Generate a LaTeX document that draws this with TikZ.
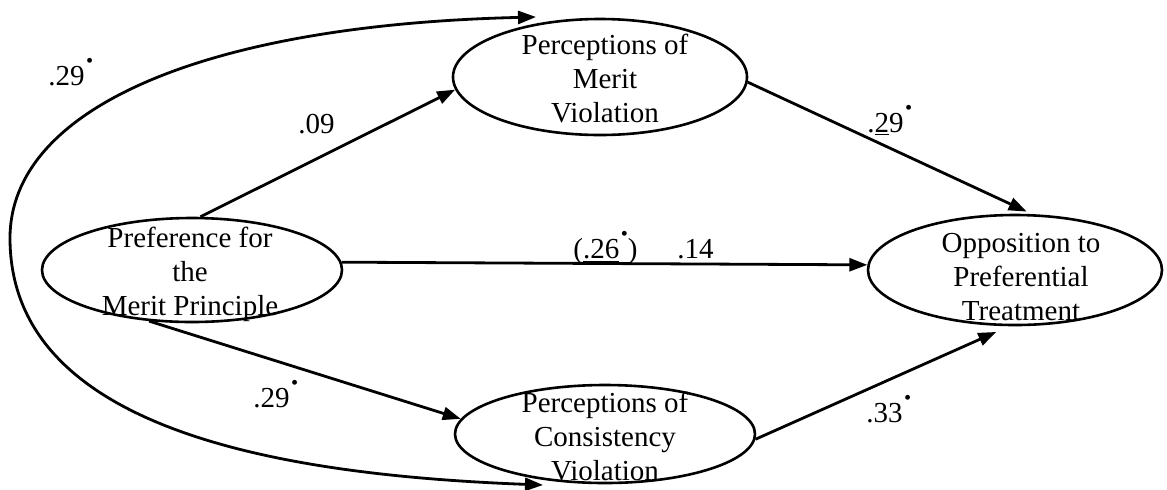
\documentclass[tikz,border=0pt]{standalone}
\usepackage{fontspec}
\setmainfont{Liberation Serif}
\usepackage{graphicx}
\usetikzlibrary{shapes.geometric,arrows.meta}
% raised significance mark after a coefficient
\newcommand{\sigdot}{\hspace{0.05em}\raisebox{0.6em}{\scalebox{0.7}{\textbullet}}}

\begin{document}
\begin{tikzpicture}[x=0.5pt,y=-0.5pt,
  latent/.style={draw, ellipse, line width=1.3pt, inner sep=0pt},
  vartext/.style={align=center, font=\fontsize{14.5}{17}\selectfont, inner sep=0pt},
  coef/.style={font=\fontsize{14.5}{17}\selectfont, inner sep=0pt, anchor=base west},
  tip/.tip={Triangle[length=9pt,width=6.5pt]},
  effect/.style={line width=1.4pt, -tip},
  ]
\useasboundingbox (0,0) rectangle (1167,489);

% latent variables
\node[latent, minimum width=147pt, minimum height=58pt] (T) at (600,77) {};
\node[latent, minimum width=150pt, minimum height=52pt] (L) at (192,270) {};
\node[latent, minimum width=147pt, minimum height=55pt] (R) at (1015,270) {};
\node[latent, minimum width=150pt, minimum height=49pt] (B) at (605,434) {};

\node[vartext] (Tt) at (605,79) {Perceptions of\\Merit\\Violation};
\node[vartext] (Lt) at (190,274) {Preference for\\the\\Merit Principle};
\node[vartext] (Rt) at (1021,277) {Opposition to\\Preferential\\Treatment};
\node[vartext] (Bt) at (605,436) {Perceptions of\\Consistency\\Violation};

% paths
\draw[effect] (L.81) -- (T.185);
\draw[effect] (L.3) -- (R.178);
\draw[effect, shorten >=3pt] (T.358) -- (R.73);
\draw[effect] (L.230) -- (B.174);
\draw[effect, shorten >=7pt] (B.358) -- (R.264);

% correlation arc on the left
\coordinate (ct) at (536,17);
\coordinate (cl) at (10,238);
\coordinate (cb) at (543,485);
\draw[line width=1.4pt, tip-tip] (ct) .. controls (200,25) and (10,110) .. (cl)
  .. controls (10,430) and (280,475) .. (cb);

% coefficients
\node[coef] (k1) at (48,85) {.29\sigdot};
\node[coef] (k2) at (298,133) {.09};
\node[coef] (k3) at (573,258) {(\underline{.26}\sigdot)};
\node[coef] (k4) at (677,258) {.14};
\node[coef] (k5) at (867,132) {.\underline{2}9\sigdot};
\node[coef] (k6) at (253,407) {.29\sigdot};
\node[coef] (k7) at (866,422) {.33\sigdot};
\end{tikzpicture}
\end{document}
